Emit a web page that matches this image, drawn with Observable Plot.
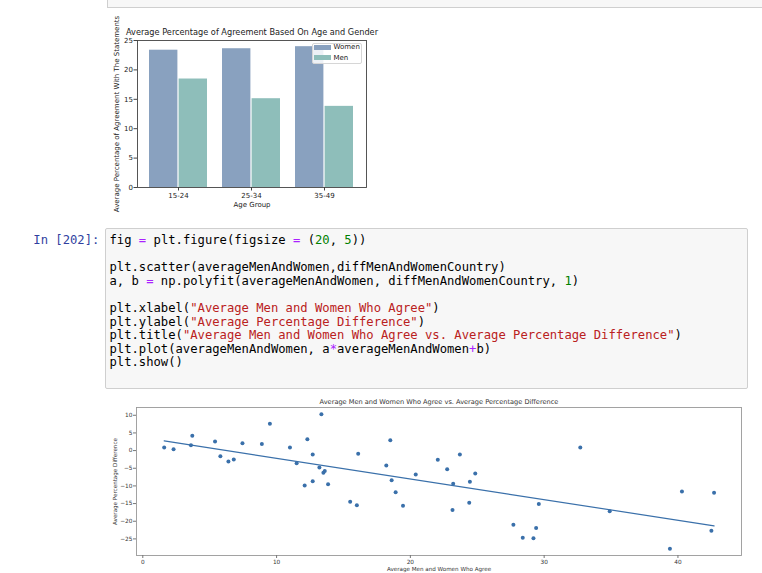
<!DOCTYPE html>
<html>
<head>
<meta charset="utf-8">
<script src="https://cdn.jsdelivr.net/npm/d3@7"></script>
<script src="https://cdn.jsdelivr.net/npm/@observablehq/plot@0.6"></script>
<style>
  html, body { margin: 0; padding: 0; background: #fff; }
  #page { position: relative; width: 762px; height: 573px; overflow: hidden; background: #fff; }
  .abs { position: absolute; }
  svg { overflow: visible; }
  #topcell { left: 107px; top: -10px; width: 700px; height: 18px; box-sizing: border-box; background: #f7f7f7; border: 1px solid #cfcfcf; }
  #prompt { left: 33.3px; top: 234.2px; font-family: "DejaVu Sans Mono", monospace; font-size: 12.2px; line-height: 13.56px; color: #303F9F; white-space: pre; }
  #code { left: 105px; top: 228px; width: 643px; height: 161px; box-sizing: border-box; background: #f7f7f7; border: 1px solid #cfcfcf; border-radius: 2px; }
  #code pre { margin: 0; padding: 5.2px 0 0 3.5px; font-family: "DejaVu Sans Mono", monospace; font-size: 12.2px; line-height: 13.56px; color: #000; }
  .op { color: #AA22FF; }
  .num { color: #008000; }
  .str { color: #BA2121; }
  #legend { left: 312px; top: 42.7px; width: 50px; height: 21.6px; box-sizing: border-box; background: rgba(255,255,255,0.85); border: 1px solid #d6d6d6; border-radius: 2px; font-family: "DejaVu Sans", sans-serif; font-size: 7px; color: #222; }
  .lg-row { position: absolute; left: 0; height: 8px; }
  .lg-sw { position: absolute; left: 1px; width: 16.7px; height: 5px; }
  .lg-tx { position: absolute; left: 20.5px; top: -2.5px; line-height: 10px; }
</style>
</head>
<body>
<div id="page">
  <div id="topcell" class="abs"></div>
  <div id="bar" class="abs" style="left:0;top:0;"></div>
  <div id="legend" class="abs"></div>
  <div id="prompt" class="abs">In [202]:</div>
  <div id="code" class="abs"><pre>fig <span class="op">=</span> plt.figure(figsize <span class="op">=</span> (<span class="num">20</span>, <span class="num">5</span>))

plt.scatter(averageMenAndWomen,diffMenAndWomenCountry)
a, b <span class="op">=</span> np.polyfit(averageMenAndWomen, diffMenAndWomenCountry, <span class="num">1</span>)

plt.xlabel(<span class="str">"Average Men and Women Who Agree"</span>)
plt.ylabel(<span class="str">"Average Percentage Difference"</span>)
plt.title(<span class="str">"Average Men and Women Who Agree vs. Average Percentage Difference"</span>)
plt.plot(averageMenAndWomen, a<span class="op">*</span>averageMenAndWomen<span class="op">+</span>b)
plt.show()</pre></div>
  <div id="scatter" class="abs" style="left:0;top:390px;"></div>
</div>
<script>
// ---- Bar chart data ----
const ageGroups = ["15-24", "25-34", "35-49"];
const genders = ["Women", "Men"];
const womenValues = [23.35, 23.6, 23.95];
const menValues = [18.45, 15.1, 13.8];
const barYTicks = [0, 5, 10, 15, 20, 25];
const barTitle = "Average Percentage of Agreement Based On Age and Gender";
const barYLabel = "Average Percentage of Agreement With The Statements";
const barXLabel = "Age Group";

// ---- Scatter data ----
const averageMenAndWomen = [
  1.6, 2.3, 3.7, 3.6, 5.4, 5.8, 6.4, 6.8, 7.45, 8.9,
  9.5, 11.0, 11.5, 12.3, 12.1, 12.7, 12.7, 13.35, 13.2, 13.5,
  13.6, 13.85, 15.5, 16.1, 16.0, 18.2, 18.5, 18.6, 18.9, 19.45,
  20.4, 22.05, 22.75, 23.7, 23.2, 23.15, 24.45, 24.85, 24.4, 27.7,
  28.4, 29.2, 29.4, 29.6, 32.7, 34.9, 39.4, 40.3, 42.5, 42.7
];
const diffMenAndWomenCountry = [
  0.9, 0.4, 4.2, 1.5, 2.6, -1.6, -3.1, -2.5, 2.1, 1.9,
  7.6, 0.85, -3.6, 3.2, -9.9, -1.1, -8.7, 10.3, -4.8, -6.3,
  -5.8, -9.5, -14.5, -0.9, -15.5, -4.2, 2.9, -8.4, -11.8, -15.6,
  -6.8, -2.6, -5.3, -1.1, -9.4, -16.8, -8.8, -6.5, -14.8, -21.0,
  -24.7, -24.8, -21.9, -15.1, 0.9, -17.2, -27.8, -11.6, -22.7, -11.9
];
const scatterXTicks = [0, 10, 20, 30, 40];
const scatterYTicks = [-25, -20, -15, -10, -5, 0, 5, 10];
const scatterTitle = "Average Men and Women Who Agree vs. Average Percentage Difference";
const scatterXLabel = "Average Men and Women Who Agree";
const scatterYLabel = "Average Percentage Difference";

const colors = { Women: "#89a1bf", Men: "#8ebeba" };
const pointColor = "#3a70aa";

// ---- Bar chart ----
const womenRows = ageGroups.map((g, i) => ({ age: g, gender: "Women", value: womenValues[i] }));
const menRows = ageGroups.map((g, i) => ({ age: g, gender: "Men", value: menValues[i] }));

const half = 29.6;
const barPlot = Plot.plot({
  width: 400, height: 215,
  marginLeft: 137, marginRight: 34, marginTop: 40, marginBottom: 28,
  style: { fontFamily: "DejaVu Sans", fontSize: "7px", color: "#222", background: "transparent", overflow: "visible" },
  x: { type: "band", domain: ageGroups, paddingInner: 0.2, paddingOuter: 0.15, label: null },
  y: { domain: [0, 25], label: null },
  marks: [
    Plot.barY(womenRows, { x: "age", y: "value", fill: colors.Women, insetRight: half }),
    Plot.barY(menRows, { x: "age", y: "value", fill: colors.Men, insetLeft: half }),
    Plot.frame({ stroke: "#444", strokeWidth: 0.9 }),
    Plot.axisX({ tickSize: 3.5, tickPadding: 2.5, fontSize: 7, label: null, stroke: "#444" }),
    Plot.axisY({ ticks: barYTicks, tickSize: 3.5, tickPadding: 1, fontSize: 7, label: null, stroke: "#444" }),
    Plot.text([barTitle], { frameAnchor: "top", dy: -8, textAnchor: "middle", lineAnchor: "middle", fontSize: 8.2, fill: "#222" }),
    Plot.text([barYLabel], { frameAnchor: "left", dx: -21, rotate: -90, textAnchor: "middle", lineAnchor: "middle", fontSize: 7, fill: "#222" }),
    Plot.text([barXLabel], { frameAnchor: "bottom", dy: 17, textAnchor: "middle", lineAnchor: "middle", fontSize: 7, fill: "#222" })
  ]
});
document.getElementById("bar").appendChild(barPlot);

// legend
const legend = document.getElementById("legend");
genders.forEach((g, i) => {
  const row = document.createElement("div");
  row.className = "lg-row";
  row.style.top = (1.3 + i * 10.3) + "px";
  const sw = document.createElement("div");
  sw.className = "lg-sw";
  sw.style.background = colors[g];
  const tx = document.createElement("div");
  tx.className = "lg-tx";
  tx.textContent = g;
  row.appendChild(sw); row.appendChild(tx);
  legend.appendChild(row);
});

// ---- Scatter ----
const points = averageMenAndWomen.map((x, i) => ({ x, y: diffMenAndWomenCountry[i] }));
const fmt = d3.format("d");
const scatterPlot = Plot.plot({
  width: 762, height: 183,
  marginLeft: 136, marginRight: 21, marginTop: 17, marginBottom: 18,
  style: { fontFamily: "DejaVu Sans", fontSize: "6px", color: "#333", background: "transparent", overflow: "visible" },
  x: { domain: [-0.47, 44.75], label: null },
  y: { domain: [-29.7, 12.2], label: null },
  marks: [
    Plot.frame({ stroke: "#999", strokeWidth: 0.9 }),
    Plot.axisX({ ticks: scatterXTicks, tickFormat: fmt, tickSize: 3, tickPadding: 1.5, fontSize: 5.8, label: null, stroke: "#777" }),
    Plot.axisY({ ticks: scatterYTicks, tickFormat: fmt, tickSize: 3, tickPadding: 1, fontSize: 5.8, label: null, stroke: "#777" }),
    Plot.linearRegressionY(points, { x: "x", y: "y", ci: 0, stroke: pointColor, strokeWidth: 1.2 }),
    Plot.dot(points, { x: "x", y: "y", r: 2, fill: pointColor }),
    Plot.text([scatterTitle], { frameAnchor: "top", dy: -6, textAnchor: "middle", lineAnchor: "middle", fontSize: 6.6, fill: "#333" }),
    Plot.text([scatterYLabel], { frameAnchor: "left", dx: -21, rotate: -90, textAnchor: "middle", lineAnchor: "middle", fontSize: 5.6, fill: "#333" }),
    Plot.text([scatterXLabel], { frameAnchor: "bottom", dy: 13.7, textAnchor: "middle", lineAnchor: "middle", fontSize: 5.6, fill: "#333" })
  ]
});
document.getElementById("scatter").appendChild(scatterPlot);
</script>
</body>
</html>
